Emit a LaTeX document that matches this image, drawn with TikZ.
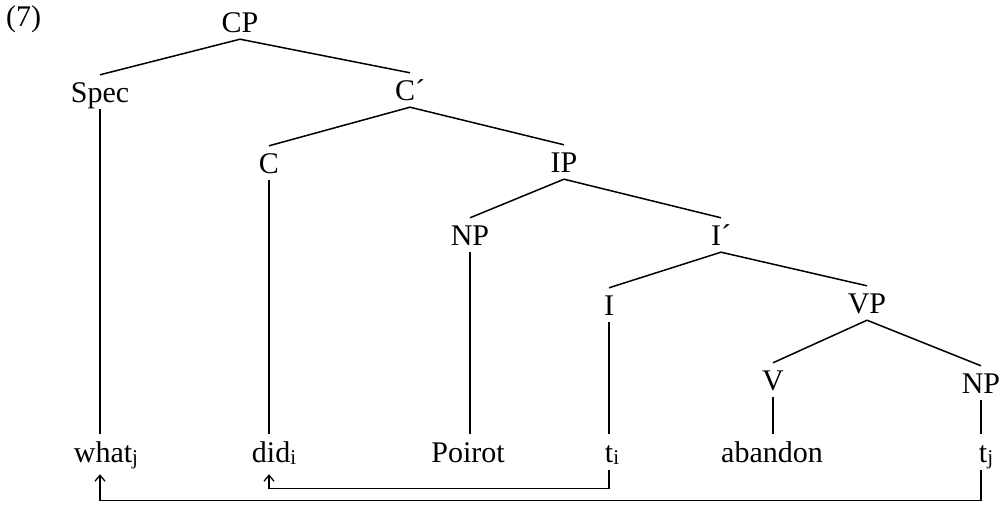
\documentclass[tikz,border=0pt]{standalone}
\usepackage{fontspec}
\setmainfont{Liberation Serif}
\usetikzlibrary{arrows.meta}
% lowered index letter on words and traces
\newcommand{\idx}[1]{\raisebox{-2pt}{\fontsize{21}{21}\selectfont #1}}
\tikzset{
  cat/.style={font=\fontsize{30}{34}\selectfont, text height=20pt, text depth=0pt,
    inner xsep=1pt, inner ysep=7pt, anchor=base},
  leaf/.style={cat, inner ysep=8pt},
  branch/.style={line width=1.5pt},
  trace/.style={line width=1.3pt, -{Straight Barb[length=6pt,width=10pt]}, shorten >=4pt},
}

\begin{document}
\begin{tikzpicture}[x=1pt,y=-1pt]
\useasboundingbox (0,0) rectangle (1002,506);
\node[cat, anchor=base west] (num) at (5,27) {(7)};
% categories
\node[cat] (cp) at (240,32) {CP};
\node[cat] (spec) at (100,102) {Spec};
\node[cat] (cbar) at (410,100) {C´};
\node[cat] (c) at (269,173) {C};
\node[cat] (ip) at (564,172) {IP};
\node[cat] (np1) at (470,245) {NP};
\node[cat] (ibar) at (721,245) {I´};
\node[cat] (i) at (609,315) {I};
\node[cat] (vp) at (867,313) {VP};
\node[cat] (v) at (773,390) {V};
\node[cat] (np2) at (981,393) {NP};
% words
\node[leaf] (what) at (106,462) {what\idx{j}};
\node[leaf] (did) at (274,462) {did\idx{i}};
\node[leaf] (poirot) at (468,462) {Poirot};
\node[leaf] (ti) at (612,462) {t\idx{i}};
\node[leaf] (aband) at (772,462) {abandon};
\node[leaf] (tj) at (986,462) {t\idx{j}};
% branches
\draw[branch] (cp.south) -- (spec.north);
\draw[branch] (cp.south) -- (cbar.north);
\draw[branch] (cbar.south) -- (c.north);
\draw[branch] (cbar.south) -- (ip.north);
\draw[branch] (ip.south) -- (np1.north);
\draw[branch] (ip.south) -- (ibar.north);
\draw[branch] (ibar.south) -- (i.north);
\draw[branch] (ibar.south) -- (vp.north);
\draw[branch] (vp.south) -- (v.north);
\draw[branch] (vp.south) -- (np2.north);
\draw[branch] (spec.south) -- (spec.south |- what.north);
\draw[branch] (c.south) -- (c.south |- did.north);
\draw[branch] (np1.south) -- (np1.south |- poirot.north);
\draw[branch] (i.south) -- (i.south |- ti.north);
\draw[branch] (v.south) -- (v.south |- aband.north);
\draw[branch] (np2.south) -- (np2.south |- tj.north);
% movement arrows
\draw[trace] (i.south |- ti.south) -- ++(0,18) -| (c.south |- did.south);
\draw[trace] (np2.south |- tj.south) -- ++(0,30) -| (spec.south |- what.south);
\end{tikzpicture}
\end{document}
